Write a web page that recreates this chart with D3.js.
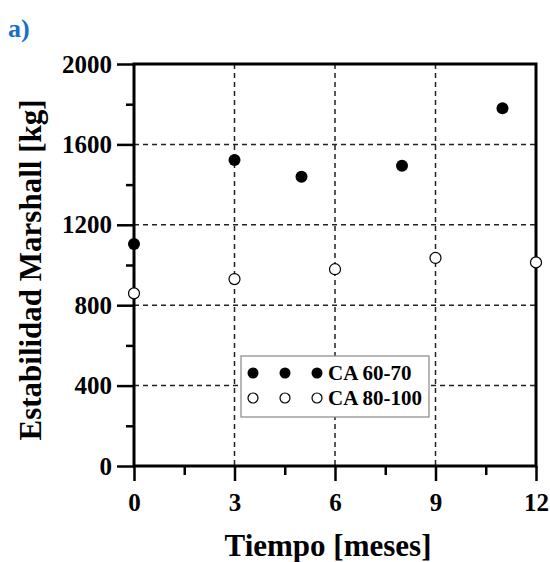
<!DOCTYPE html>
<html>
<head>
<meta charset="utf-8">
<script src="https://cdn.jsdelivr.net/npm/d3@7"></script>
<style>
  body { margin: 0; background: #fff; }
  text { font-family: "Liberation Serif", "Times New Roman", serif; font-weight: bold; }
</style>
</head>
<body>
<svg id="svg" width="550" height="562"></svg>
<script>
// data
var months6070 = [0, 3, 5, 8, 11];
var values6070 = [1104, 1522, 1439, 1494, 1780];
var months80100 = [0, 3, 6, 9, 12];
var values80100 = [859, 930, 979, 1035, 1013];
var seriesNames = ['CA 60-70', 'CA 80-100'];
var xTicks = [0, 3, 6, 9, 12];
var yTicks = [0, 400, 800, 1200, 1600, 2000];

var svg = d3.select('svg');

var plotLeft = 134, plotRight = 536, plotTop = 64, plotBottom = 466;

var x = d3.scaleLinear().domain([0, 12]).range([plotLeft, plotRight]);
var y = d3.scaleLinear().domain([0, 2000]).range([plotBottom, plotTop]);

// panel label
svg.append('text')
    .attr('x', 8).attr('y', 37)
    .attr('font-size', 26)
    .attr('fill', '#1570c6')
    .text('a)');

// dashed grid
svg.selectAll('.gridy')
    .data([400, 800, 1200, 1600])
    .enter().append('line')
    .attr('x1', plotLeft).attr('x2', plotRight)
    .attr('y1', function(d){ return y(d); }).attr('y2', function(d){ return y(d); })
    .attr('stroke', '#222').attr('stroke-width', 1.5)
    .attr('stroke-dasharray', '5,4');

svg.selectAll('.gridx')
    .data([3, 6, 9])
    .enter().append('line')
    .attr('y1', plotTop).attr('y2', plotBottom)
    .attr('x1', function(d){ return x(d); }).attr('x2', function(d){ return x(d); })
    .attr('stroke', '#222').attr('stroke-width', 1.5)
    .attr('stroke-dasharray', '5,4');

// frame
svg.append('rect')
    .attr('x', plotLeft).attr('y', plotTop)
    .attr('width', plotRight - plotLeft).attr('height', plotBottom - plotTop)
    .attr('fill', 'none').attr('stroke', '#000').attr('stroke-width', 3);

// y axis
var yAxis = d3.axisLeft(y).tickValues(yTicks).tickSize(17).tickPadding(5).tickFormat(d3.format('d'));
var gy = svg.append('g').attr('transform', 'translate(' + plotLeft + ',0)').call(yAxis);
gy.select('.domain').remove();
gy.selectAll('.tick line').attr('stroke', '#000').attr('stroke-width', 2.5);
gy.selectAll('.tick text').attr('font-size', 25).attr('fill', '#000')
    .attr('font-family', '"Liberation Serif", serif').attr('font-weight', 'bold');

var yMinor = d3.axisLeft(y).tickValues([200, 600, 1000, 1400, 1800]).tickSize(8).tickFormat('');
var gym = svg.append('g').attr('transform', 'translate(' + plotLeft + ',0)').call(yMinor);
gym.select('.domain').remove();
gym.selectAll('.tick line').attr('stroke', '#000').attr('stroke-width', 2.5);

// x axis
var xAxis = d3.axisBottom(x).tickValues(xTicks).tickSize(15).tickPadding(12).tickFormat(d3.format('d'));
var gx = svg.append('g').attr('transform', 'translate(0,' + plotBottom + ')').call(xAxis);
gx.select('.domain').remove();
gx.selectAll('.tick line').attr('stroke', '#000').attr('stroke-width', 2.5);
gx.selectAll('.tick text').attr('font-size', 25).attr('fill', '#000')
    .attr('font-family', '"Liberation Serif", serif').attr('font-weight', 'bold');

var xMinor = d3.axisBottom(x).tickValues([1.5, 4.5, 7.5, 10.5]).tickSize(9).tickFormat('');
var gxm = svg.append('g').attr('transform', 'translate(0,' + plotBottom + ')').call(xMinor);
gxm.select('.domain').remove();
gxm.selectAll('.tick line').attr('stroke', '#000').attr('stroke-width', 2.5);

// axis titles
svg.append('text')
    .attr('x', (plotLeft + plotRight) / 2 - 7).attr('y', 556)
    .attr('text-anchor', 'middle')
    .attr('font-size', 31)
    .text('Tiempo [meses]');

svg.append('text')
    .attr('transform', 'translate(41,270) rotate(-90)')
    .attr('text-anchor', 'middle')
    .attr('font-size', 31)
    .text('Estabilidad Marshall [kg]');

// points
svg.selectAll('.p80')
    .data(months80100)
    .enter().append('circle')
    .attr('cx', function(d){ return x(d); })
    .attr('cy', function(d, i){ return y(values80100[i]); })
    .attr('r', 5.5)
    .attr('fill', '#fff').attr('stroke', '#000').attr('stroke-width', 1.2);

svg.selectAll('.p60')
    .data(months6070)
    .enter().append('circle')
    .attr('cx', function(d){ return x(d); })
    .attr('cy', function(d, i){ return y(values6070[i]); })
    .attr('r', 6)
    .attr('fill', '#000');

// legend
var leg = svg.append('g');
leg.append('rect')
    .attr('x', 241).attr('y', 356).attr('width', 188).attr('height', 61)
    .attr('fill', '#fff').attr('stroke', '#888').attr('stroke-width', 1.2);

seriesNames.forEach(function(name, i) {
    var cy = 373 + i * 25;
    [253, 285, 317].forEach(function(cx) {
        leg.append('circle')
            .attr('cx', cx).attr('cy', cy)
            .attr('r', i === 0 ? 5.5 : 5)
            .attr('fill', i === 0 ? '#000' : '#fff')
            .attr('stroke', '#000').attr('stroke-width', i === 0 ? 0 : 1.2);
    });
    leg.append('text')
        .attr('x', 328).attr('y', cy + 7)
        .attr('font-size', 21)
        .text(name);
});
</script>
</body>
</html>
